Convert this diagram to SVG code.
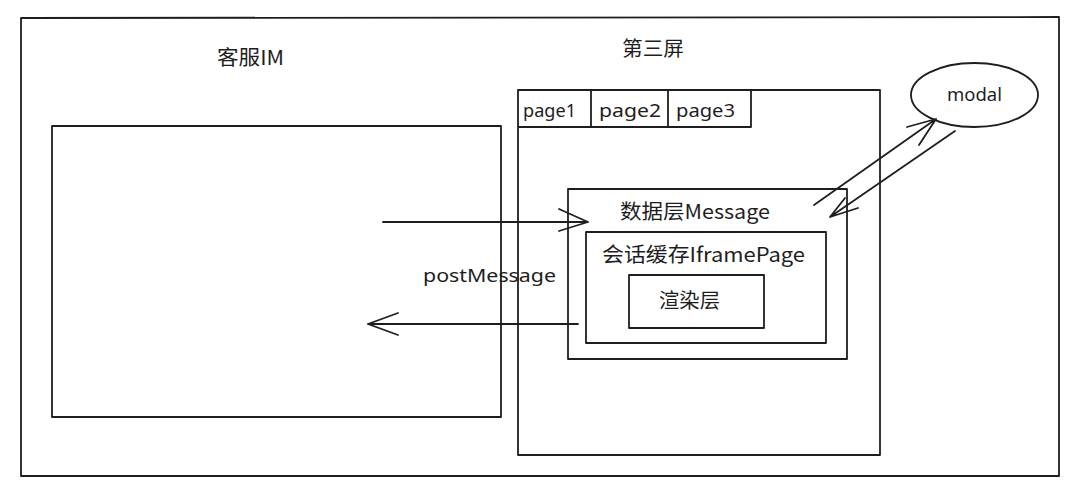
<svg xmlns="http://www.w3.org/2000/svg" width="1080" height="489" viewBox="0 0 1080 489">
<style>
.box{fill:none;stroke:#1e1e1e;stroke-width:1.8;stroke-linejoin:round}
.ln{fill:none;stroke:#1e1e1e;stroke-width:1.8;stroke-linecap:round;stroke-linejoin:round}
.t{font-family:"Noto Sans CJK SC","Noto Sans",sans-serif;fill:#1e1e1e;font-size:20px}
.s{font-family:"Noto Sans","Noto Sans CJK SC",sans-serif;fill:#1e1e1e;font-size:18px}
</style>
<rect width="1080" height="489" fill="#ffffff"/>
<g id="frame">
<path class="box" d="M21 18 L1059 17 L1059 476 L21 476 Z"/>
</g>
<g id="im">
<rect class="box" x="52" y="126" width="449" height="291"/>
<text class="t" x="217" y="65" textLength="67" lengthAdjust="spacingAndGlyphs">客服IM</text>
</g>
<g id="third-screen">
<rect class="box" x="518" y="90" width="362" height="365"/>
<text class="t" x="622" y="56" textLength="62" lengthAdjust="spacingAndGlyphs">第三屏</text>
</g>
<g id="tabs">
<path class="box" d="M518 127 L751 127 L751 90 M591 90 L591 127 M668 90 L668 127"/>
<text class="s" x="523" y="117" textLength="53" lengthAdjust="spacingAndGlyphs">page1</text>
<text class="s" x="599" y="117" textLength="62" lengthAdjust="spacingAndGlyphs">page2</text>
<text class="s" x="676" y="117" textLength="59" lengthAdjust="spacingAndGlyphs">page3</text>
</g>
<g id="data-layer">
<rect class="box" x="568" y="189" width="279" height="170"/>
<text class="t" x="620" y="219" textLength="150" lengthAdjust="spacingAndGlyphs">数据层Message</text>
</g>
<g id="session">
<rect class="box" x="586" y="232" width="240" height="111"/>
<text class="t" x="602" y="262" textLength="203" lengthAdjust="spacingAndGlyphs">会话缓存IframePage</text>
</g>
<g id="render">
<rect class="box" x="629" y="275" width="135" height="53"/>
<text class="t" x="659" y="308" textLength="61" lengthAdjust="spacingAndGlyphs">渲染层</text>
</g>
<g id="modal">
<ellipse class="box" cx="974.5" cy="95" rx="63.5" ry="32"/>
<text class="s" x="947" y="101" textLength="55" lengthAdjust="spacingAndGlyphs">modal</text>
</g>
<g id="connectors">
<path class="ln" d="M383 222 L588 222 M559 209 L588 222 L559 231"/>
<path class="ln" d="M578 324 L368 324 M398 313 L368 324 L398 335"/>
<path class="ln" d="M814 205 L936 119 M907 127 L936 119 L919 145"/>
<path class="ln" d="M955 131 L830 217 M845 198 L830 217 L858 208"/>
<text class="s" x="423" y="282" textLength="133" lengthAdjust="spacingAndGlyphs">postMessage</text>
</g>
</svg>
